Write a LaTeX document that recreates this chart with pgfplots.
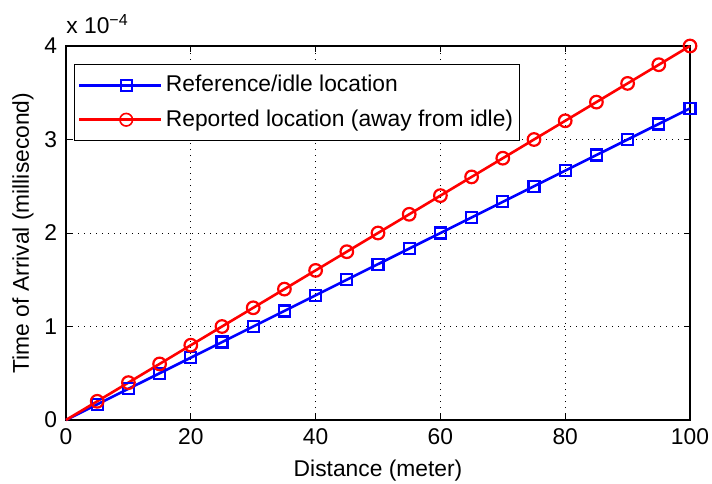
\documentclass[border=0pt]{standalone}
\usepackage{pgfplots}
\pgfplotsset{compat=1.18}
\usepackage{fontspec}
\setmainfont{Liberation Sans}

% Time of arrival for the idle and the reported locations (milliseconds)
\pgfplotstableread{
d     t
0     0
5     1.6667e-5
10    3.3333e-5
15    5.0e-5
20    6.6667e-5
25    8.3333e-5
30    1.0e-4
35    1.1667e-4
40    1.3333e-4
45    1.5e-4
50    1.6667e-4
55    1.8333e-4
60    2.0e-4
65    2.1667e-4
70    2.3333e-4
75    2.5e-4
80    2.6667e-4
85    2.8333e-4
90    3.0e-4
95    3.1667e-4
100   3.3333e-4
}\idle
\pgfplotstableread{
d     t
0     0
5     2.0e-5
10    4.0e-5
15    6.0e-5
20    8.0e-5
25    1.0e-4
30    1.2e-4
35    1.4e-4
40    1.6e-4
45    1.8e-4
50    2.0e-4
55    2.2e-4
60    2.4e-4
65    2.6e-4
70    2.8e-4
75    3.0e-4
80    3.2e-4
85    3.4e-4
90    3.6e-4
95    3.8e-4
100   4.0e-4
}\reported

\begin{document}
\begin{tikzpicture}
\begin{axis}[
  name=ax,
  scale only axis,
  width=312pt, height=187pt,
  xmin=0, xmax=100, ymin=0, ymax=4e-4,
  xtick={0,20,...,100},
  ytick={0,1e-4,2e-4,3e-4,4e-4},
  scaled y ticks=base 10:4,
  ytick scale label code/.code={x 10\textsuperscript{−4}},
  every y tick scale label/.style={at={(rel axis cs:0,1)}, anchor=south west, inner sep=0pt, xshift=1pt, yshift=6pt},
  /pgf/number format/assume math mode=true,
  font=\fontsize{11.4}{13}\selectfont,
  tick label style={font=\fontsize{11.4}{13}\selectfont},
  xticklabel style={yshift=-1pt},
  yticklabel style={xshift=-1pt},
  label style={font=\fontsize{11.4}{13}\selectfont},
  axis line style={black, line width=0.6pt},
  tick style={black, line width=0.5pt},
  major tick length=3pt,
  tick align=inside,
  tick pos=both,
  grid=major,
  major grid style={black, line width=0.45pt, dash pattern=on 0.5pt off 2.5pt},
  xlabel={Distance (meter)},
  ylabel={Time of Arrival (millisecond)},
  xlabel style={yshift=-0.5pt},
  ylabel style={yshift=-1.5pt},
  clip=false,
  legend cell align=left,
  legend style={at={(0.0135,0.952)}, anchor=north west, draw=black, line width=0.5pt,
    font=\fontsize{11.4}{13}\selectfont, row sep=3.5pt, column sep=0pt,
    inner xsep=1.5pt, inner ysep=3.5pt, nodes={inner xsep=1.7pt}},
  legend image code/.code={
    \path (0pt,0pt) -- (41pt,0pt);
    \draw[#1, line width=0.7pt] (6pt,0pt) -- (41pt,0pt);
    \draw[#1, line width=0.7pt, only marks, mark phase=1, mark repeat=1,
      mark options={line width=0.8pt, solid}]
      plot coordinates {(23.5pt,0pt)};
  },
]
\addplot[blue, line width=1.3pt, mark=square, mark size=2.75pt, mark phase=2,
  mark options={line width=1.1pt, solid}] table[x=d, y=t] {\idle};
\addlegendentry{Reference/idle location}
\addplot[red, line width=1.3pt, mark=o, mark size=3.15pt, mark phase=2,
  mark options={line width=1.1pt, solid}] table[x=d, y=t] {\reported};
\addlegendentry{Reported location (away from idle)}
\end{axis}
\pgfresetboundingbox
\path[use as bounding box] ([shift={(-33pt,-31.5pt)}]ax.south west) rectangle ([shift={(11pt,23pt)}]ax.north east);
\end{tikzpicture}
\end{document}
